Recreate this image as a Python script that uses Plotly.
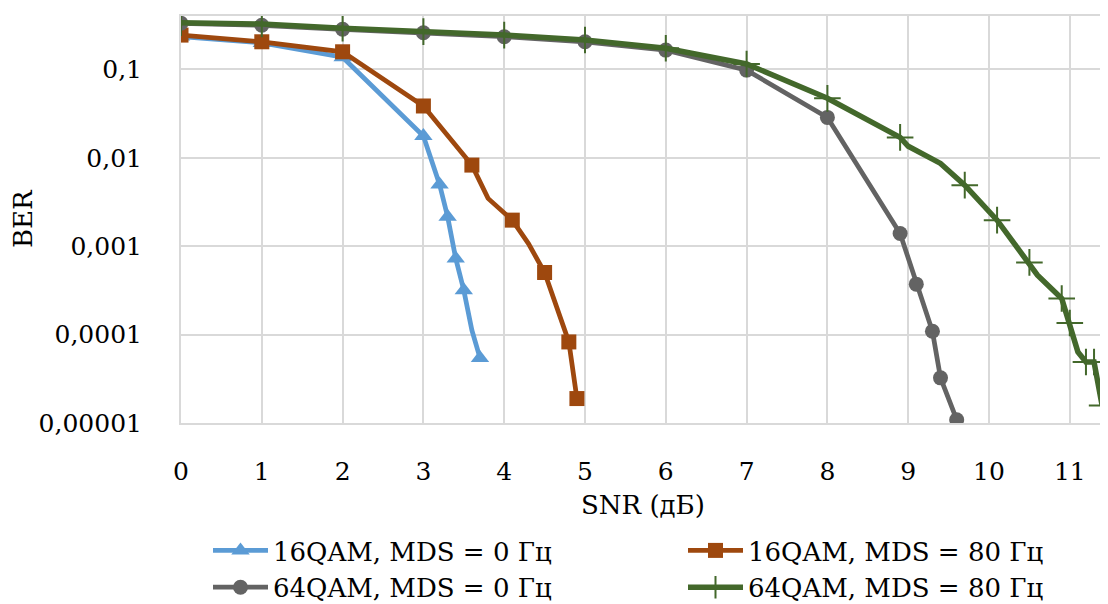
import plotly.graph_objects as go

# ---------------- data ----------------
snr_16_0 = [0, 1, 2, 3, 3.2, 3.3, 3.4, 3.5, 3.6, 3.7]
ber_16_0 = [0.235, 0.199, 0.137, 0.0176, 0.00499, 0.00215, 0.000726, 0.000318, 0.000112, 0.0000545]
plain_16_0 = [3.6]   # line vertices drawn without a marker

snr_16_80 = [0, 1, 2, 3, 3.6, 3.8, 4.1, 4.3, 4.5, 4.8, 4.9]
ber_16_80 = [0.244, 0.205, 0.158, 0.0385, 0.00826, 0.00347, 0.00197, 0.00107, 0.000504, 0.0000826, 0.0000189]
plain_16_80 = [3.8, 4.3]

snr_64_0 = [0, 1, 2, 3, 4, 5, 6, 7, 8, 8.9, 9.1, 9.3, 9.4, 9.6]
ber_64_0 = [0.332, 0.315, 0.284, 0.259, 0.234, 0.205, 0.165, 0.098, 0.0286,
            0.00139, 0.000372, 0.000109, 0.0000324, 0.0000109]
plain_64_0 = []

snr_64_80 = [0, 1, 2, 3, 4, 5, 6, 7, 8, 8.9, 9.0, 9.4, 9.7, 10.1, 10.5, 10.6,
             10.9, 11.0, 11.1, 11.2, 11.3, 11.4]
ber_64_80 = [0.336, 0.326, 0.291, 0.267, 0.244, 0.215, 0.173, 0.115, 0.047, 0.017, 0.0135,
             0.00863, 0.0049, 0.00197, 0.000655, 0.00047, 0.000256, 0.000135, 0.0000637,
             0.000049, 0.000049, 0.0000158]
plain_64_80 = [9.0, 9.4, 10.6, 11.1]

names = ["16QAM, MDS = 0 Гц", "16QAM, MDS = 80 Гц", "64QAM, MDS = 0 Гц", "64QAM, MDS = 80 Гц"]

y_tick_vals = [0.00001, 0.0001, 0.001, 0.01, 0.1]
y_tick_text = ["0,00001", "0,0001", "0,001", "0,01", "0,1"]
x_tick_vals = list(range(0, 12))

# ---------------- figure ----------------
FONT = "DejaVu Serif"
GRID = "#D9D9D9"

series = [
    (snr_16_0, ber_16_0, plain_16_0, "#5B9BD5", "triangle-up", 16, 0, 4.75, "legend"),
    (snr_16_80, ber_16_80, plain_16_80, "#9E480E", "square", 15, 0, 4.75, "legend2"),
    (snr_64_0, ber_64_0, plain_64_0, "#636363", "circle", 15, 0, 4.75, "legend"),
    (snr_64_80, ber_64_80, plain_64_80, "#43682B", "cross-thin", 19, 2, 5.5, "legend2"),
]

fig = go.Figure()
for (xs, ys, plain, color, sym, ms, mlw, lw, lg), name in zip(series, names):
    sizes = [0 if xv in plain else ms for xv in xs]
    fig.add_trace(go.Scatter(
        x=xs, y=ys, name=name, mode="lines+markers", showlegend=False,
        line=dict(color=color, width=lw),
        marker=dict(symbol=sym, size=sizes, color=color, opacity=1,
                    line=dict(color=color, width=mlw)),
    ))
# legend entries (no data drawn)
for (xs, ys, plain, color, sym, ms, mlw, lw, lg), name in zip(series, names):
    fig.add_trace(go.Scatter(
        x=[None], y=[None], name=name, mode="lines+markers", legend=lg,
        line=dict(color=color, width=lw),
        marker=dict(symbol=sym, size=ms, color=color, opacity=1,
                    line=dict(color=color, width=mlw)),
    ))

# page body has an 8px margin: lay out in window pixels, shift by it
OFF = 8
WIN_W, WIN_H = 1108, 604
W, H = WIN_W - OFF, WIN_H - OFF
PLOT_L, PLOT_R, PLOT_T, PLOT_B = 181, 1108, 16, 423   # window pixels
L, R, T, B = PLOT_L - OFF, WIN_W - PLOT_R, PLOT_T - OFF, WIN_H - PLOT_B
pw = PLOT_R - PLOT_L
ph = PLOT_B - PLOT_T

def px(xw):
    return (xw - PLOT_L) / pw

def py(yw):
    return (PLOT_B - yw) / ph

leg_common = dict(
    orientation="v", xanchor="left", yanchor="top",
    itemwidth=55, font=dict(family=FONT, size=26),
    tracegroupgap=0, bgcolor="rgba(0,0,0,0)",
)

fig.update_layout(
    width=W, height=H,
    margin=dict(l=L, r=R, t=T, b=B, pad=0, autoexpand=False),
    paper_bgcolor="white", plot_bgcolor="white",
    font=dict(family=FONT, size=25, color="black"),
    showlegend=True,
    legend=dict(x=px(208), y=py(527), **leg_common),
    legend2=dict(x=px(683), y=py(527), **leg_common),
    xaxis=dict(
        range=[0, pw / 80.8], tickvals=x_tick_vals,
        showgrid=True, gridcolor=GRID, gridwidth=2,
        showline=True, linecolor=GRID, linewidth=2, mirror=True,
        zeroline=False, ticks="", ticklabelstandoff=25,
        tickfont=dict(family=FONT, size=25),
    ),
    yaxis=dict(
        type="log", range=[-5, -1 + (69.3 - PLOT_T) / 88.35],
        tickvals=y_tick_vals, ticktext=y_tick_text,
        showgrid=True, gridcolor=GRID, gridwidth=2,
        showline=True, linecolor=GRID, linewidth=2,
        zeroline=False, ticks="", ticklabelstandoff=32,
        tickfont=dict(family=FONT, size=25),
    ),
    annotations=[
        dict(text="SNR (дБ)", xref="paper", yref="paper",
             x=px(643), y=py(505), xanchor="center", yanchor="middle",
             showarrow=False, font=dict(family=FONT, size=26)),
        dict(text="BER", xref="paper", yref="paper", textangle=-90,
             x=px(23), y=py(219), xanchor="center", yanchor="middle",
             showarrow=False, font=dict(family=FONT, size=26)),
    ],
)

fig.write_html("out.html")
